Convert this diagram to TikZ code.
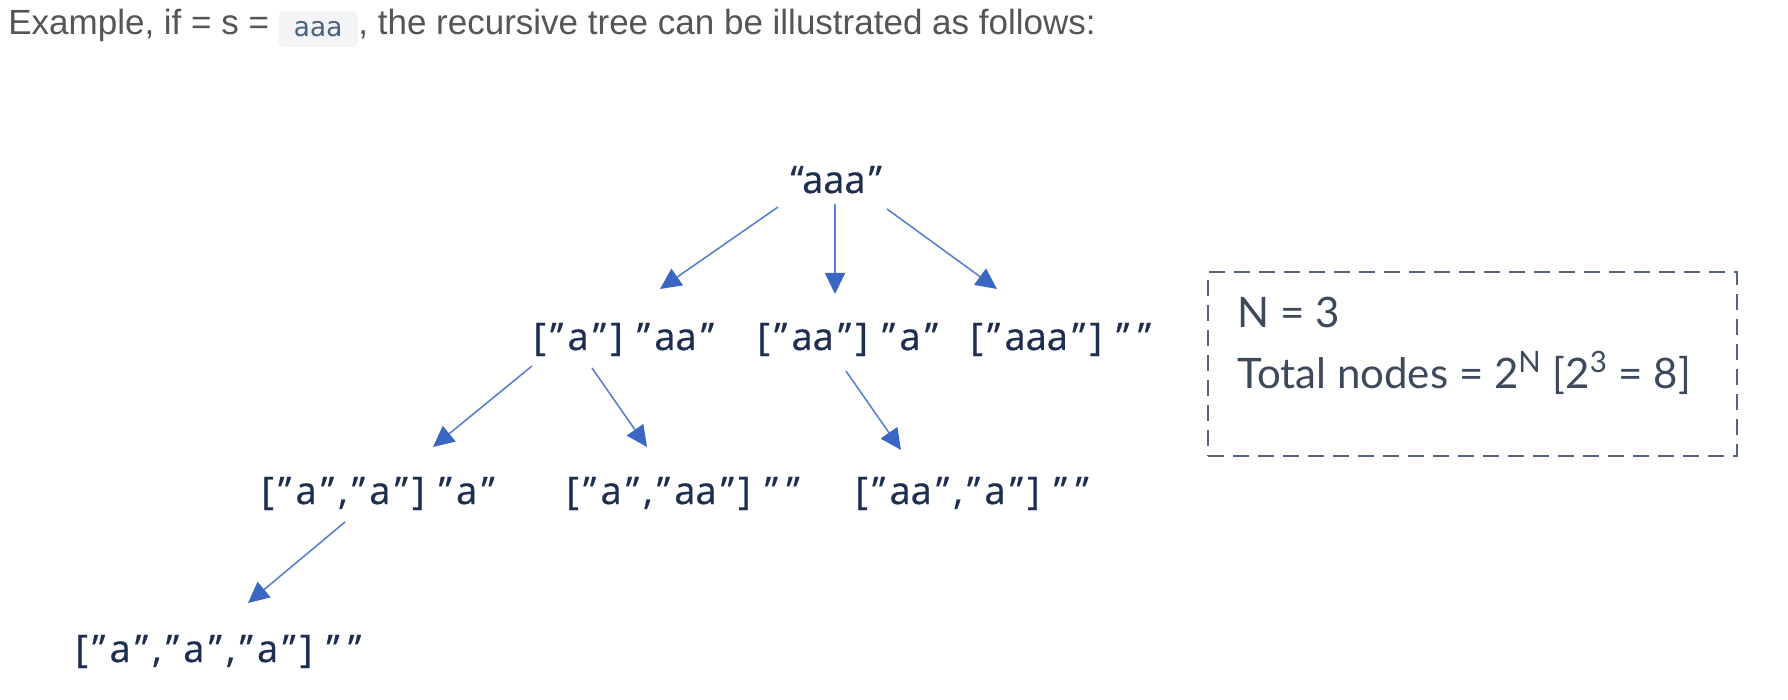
\documentclass[tikz,border=0pt]{standalone}
\usepackage{fontspec}
\setmainfont{Lato}
\newfontfamily\treefont[FakeBold=0.6]{Open Sans}
\newfontfamily\headfont{Liberation Sans}
\newfontfamily\codefont{DejaVu Sans Mono}
\usetikzlibrary{arrows.meta,calc}
\newcommand\tq{\kern0.11em”\kern0.11em}
\definecolor{navy}{HTML}{1E2E52}
\definecolor{headgray}{HTML}{555555}
\definecolor{codetext}{HTML}{476582}
\definecolor{codebg}{HTML}{F3F4F5}
\definecolor{arrowline}{HTML}{5A82CE}
\definecolor{arrowtip}{HTML}{3A67C2}
\definecolor{boxline}{HTML}{56647E}
\definecolor{boxtext}{HTML}{3D4A5C}
\begin{document}
\begin{tikzpicture}[x=0.5pt,y=-0.5pt,
  tree/.style={font=\treefont\fontsize{19}{22}\selectfont, text=navy, inner sep=0pt, anchor=base west},
  head/.style={font=\headfont\fontsize{17.5}{19}\selectfont, text=headgray, inner sep=0pt, anchor=base west},
  codebox/.style={font=\codefont\fontsize{13.5}{15}\selectfont, text=codetext, fill=codebg, rounded corners=3pt, minimum width=39.5pt, minimum height=18pt, inner sep=0pt},
  arr/.style={draw=arrowline, line width=0.8pt, -{Triangle[length=10.5pt,width=10pt,color=arrowtip]}},
  dashbox/.style={draw=boxline, line width=1.2pt, dash pattern=on 8pt off 4.5pt, inner sep=0pt, anchor=north west},
  boxtxt/.style={font=\fontsize{21}{24}\selectfont, text=boxtext, inner sep=0pt, anchor=base west}
]
\fill[white] (0,0) rectangle (1788,700);
\useasboundingbox (0,0) rectangle (1788,700);

% header
\node[head] (h1) at (8,35) {Example, if = s =};
\node[codebox] (code) at (318,29) {aaa};
\node[head] (h2) at (358,35) {, the recursive tree can be illustrated as follows:};

% tree
\node[tree] (root) at (790,193) {“aaa\kern0.08em”};
\node[tree] (l1a) at (533,350) {[\tq a\tq] \tq aa\tq};
\node[tree] (l1b) at (757,350) {[\tq aa\tq] \tq a\tq};
\node[tree] (l1c) at (970,350) {[\tq aaa\tq] \tq\tq};
\node[tree] (l2a) at (261,504) {[\tq a\tq,\tq a\tq] \tq a\tq};
\node[tree] (l2b) at (566,504) {[\tq a\tq,\tq aa\tq] \tq\tq};
\node[tree] (l2c) at (855,504) {[\tq aa\tq,\tq a\tq] \tq\tq};
\node[tree] (l3) at (75,662) {[\tq a\tq,\tq a\tq,\tq a\tq] \tq\tq};

\draw[arr] ($(root.base west)+(-12,14)$) -- ($(l1a.base west)+(127,-61)$);
\draw[arr] ($(root.base west)+(45,11)$) -- ($(l1b.base west)+(78,-56)$);
\draw[arr] ($(root.base west)+(97,16)$) -- ($(l1c.base west)+(27,-61)$);
\draw[arr] ($(l1a.base west)+(-1,16)$) -- ($(l2a.base west)+(172,-57)$);
\draw[arr] ($(l1a.base west)+(59,18)$) -- ($(l2b.base west)+(81,-57)$);
\draw[arr] ($(l1b.base west)+(89,21)$) -- ($(l2c.base west)+(46,-54)$);
\draw[arr] ($(l2a.base west)+(84,18)$) -- ($(l3.base west)+(173,-59)$);

% info box
\node[dashbox, minimum width=264.5pt, minimum height=92pt] (box) at (1207,271) {};
\node[boxtxt] (nline) at ($(box.north west)+(30,57)$) {N = 3};
\node[boxtxt] (tline) at ($(box.north west)+(30,117)$) {Total nodes = 2\textsuperscript{N} [2\textsuperscript{3} = 8]};
\end{tikzpicture}
\end{document}
